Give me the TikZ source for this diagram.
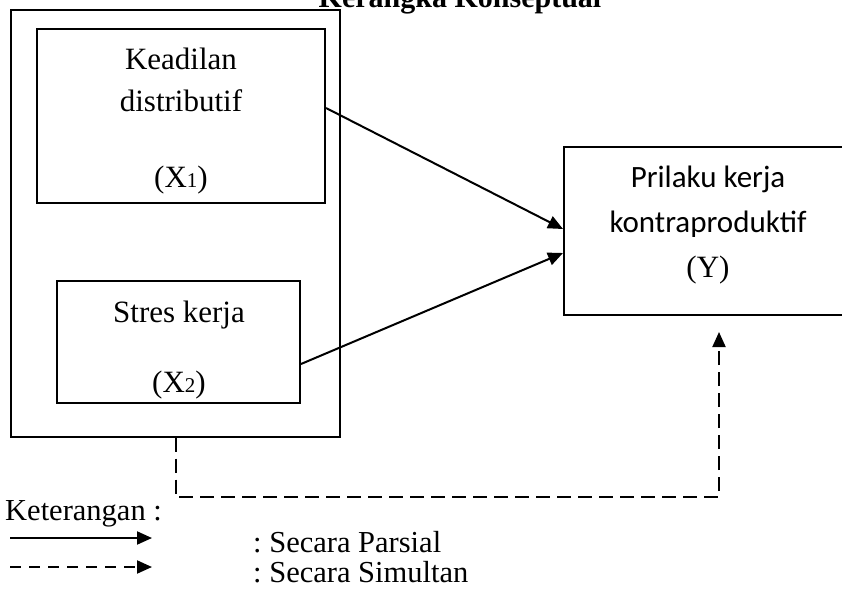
\documentclass[tikz,border=0pt]{standalone}
\usepackage{fontspec}
\setmainfont{Liberation Serif}
\newfontfamily\calibrifont{Carlito}
\usetikzlibrary{arrows.meta}
\newcommand\smallidx[1]{{\fontsize{21}{21}\selectfont #1}}
\frenchspacing
\begin{document}
\begin{tikzpicture}[x=1pt,y=-1pt,
  box/.style={draw, line width=2pt, inner sep=0pt},
  txt/.style={anchor=base, inner sep=0pt, font=\fontsize{31}{36}\selectfont},
  sanstxt/.style={anchor=base, inner sep=0pt, font=\calibrifont\fontsize{31}{37}\selectfont},
  legtxt/.style={anchor=base west, inner sep=0pt, font=\fontsize{30.5}{36}\selectfont},
  conn/.style={line width=2pt, -{Triangle[length=15pt,width=13pt]}},
  dconn/.style={conn, dash pattern=on 14pt off 7pt},
]
\useasboundingbox (0,0) rectangle (842,601);

% title (cut at top, as in the reference)
\node[anchor=base, inner sep=0pt, font=\bfseries\fontsize{30}{36}\selectfont] (title) at (460,8) {Kerangka Konseptual};

% boxes
\node[box, minimum width=329pt, minimum height=426pt] (outer) at (175.5,223.5) {};
\node[box, minimum width=288pt, minimum height=174pt] (x1) at (181,116) {};
\node[box, minimum width=243pt, minimum height=122pt] (x2) at (178.5,342) {};
\node[box, minimum width=316pt, minimum height=168pt] (y) at (722,231) {};

% texts
\node[txt] (t1a) at (181,70) {Keadilan};
\node[txt] (t1b) at (181,112) {distributif};
\node[txt] (t1c) at (181,188) {(X\smallidx{1})};
\node[txt] (t2a) at (179,322) {Stres kerja};
\node[txt] (t2b) at (179,392) {(X\smallidx{2})};
\node[sanstxt] (tya) at (708,188) {Prilaku kerja};
\node[sanstxt] (tyb) at (708,233) {kontraproduktif};
\node[txt] (tyc) at (708,277) {(Y)};

% partial arrows
\draw[conn] ([yshift=8pt]x1.east) -- ([yshift=2pt]y.west);
\draw[conn] ([yshift=-22pt]x2.east) -- ([yshift=-22pt]y.west);

% simultaneous arrow
\coordinate (dbot) at (0,497);
\coordinate (dtip) at (719,332);
\draw[dconn] (outer.south) -- (outer.south |- dbot) -| (dtip);

% legend
\node[legtxt] (ket) at (5,520) {Keterangan :};
\coordinate (l1a) at (10,538);
\coordinate (l1b) at (152,538);
\coordinate (l2a) at (10,567);
\coordinate (l2b) at (152,567);
\draw[conn] (l1a) -- (l1b);
\draw[conn, dash pattern=on 11pt off 8pt] (l2a) -- (l2b);
\node[legtxt] (lp) at (253,552) {: Secara Parsial};
\node[legtxt] (ls) at (253,582) {: Secara Simultan};
\end{tikzpicture}
\end{document}
